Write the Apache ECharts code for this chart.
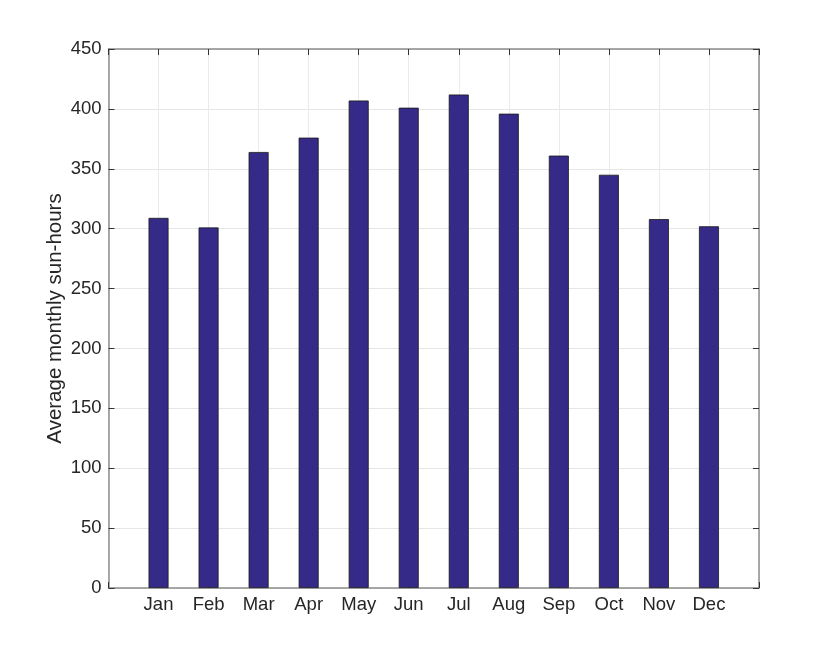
<!DOCTYPE html>
<html>
<head>
<meta charset="utf-8">
<script src="https://cdn.jsdelivr.net/npm/echarts@6/dist/echarts.min.js"></script>
<style>
  html, body { margin: 0; padding: 0; background: #fff; }
  #main { width: 839px; height: 661px; }
</style>
</head>
<body>
<div id="main"></div>
<script>
// 月份和日照时数
var months = ['Jan', 'Feb', 'Mar', 'Apr', 'May', 'Jun', 'Jul', 'Aug', 'Sep', 'Oct', 'Nov', 'Dec'];
var sunHours = [309, 301, 364, 376, 407, 401, 412, 396, 361, 345, 308, 302];
var yTicks = [0, 50, 100, 150, 200, 250, 300, 350, 400, 450];

var myChart = echarts.init(document.getElementById('main'));

// 柱子放在 1..12 的位置上，两边各留一格
var barData = sunHours.map(function (v, i) { return [i + 1, v]; });

var axisColor = '#8c8c8c';
var tickColor = '#333';
var textColor = '#262626';
var fontFamily = '"Liberation Sans", Arial, Helvetica, sans-serif';

var option = {
    animation: false,
    grid: { left: 108.5, right: 80, top: 49, bottom: 73 },
    xAxis: [{
        type: 'value',
        position: 'bottom',
        min: 0,
        max: months.length + 1,
        interval: 1,
        axisLine: { show: true, onZero: false, lineStyle: { color: axisColor, width: 1.5 } },
        axisTick: { show: true, inside: true, length: 6, lineStyle: { color: tickColor } },
        axisLabel: {
            margin: 7,
            color: textColor,
            fontSize: 18.5,
            fontFamily: fontFamily,
            formatter: function (v) { return months[v - 1] || ''; }
        },
        splitLine: { show: true, lineStyle: { color: '#ebebeb' } }
    }, {
        type: 'value',
        position: 'top',
        min: 0,
        max: months.length + 1,
        interval: 1,
        axisLine: { show: true, onZero: false, lineStyle: { color: axisColor, width: 1.5 } },
        axisTick: { show: true, inside: true, length: 6, lineStyle: { color: tickColor } },
        axisLabel: { show: false },
        splitLine: { show: false }
    }],
    yAxis: [{
        type: 'value',
        position: 'left',
        min: yTicks[0],
        max: yTicks[yTicks.length - 1],
        interval: 50,
        name: 'Average monthly sun-hours',
        nameLocation: 'middle',
        nameGap: 43,
        nameMoveOverlap: false,
        nameTextStyle: { color: textColor, fontSize: 20.5, fontFamily: fontFamily },
        axisLine: { show: true, onZero: false, lineStyle: { color: axisColor, width: 1.5 } },
        axisTick: { show: true, inside: true, length: 6, lineStyle: { color: tickColor } },
        axisLabel: { margin: 7, color: textColor, fontSize: 18.5, fontFamily: fontFamily },
        splitLine: { show: true, lineStyle: { color: '#e6e6e6' } }
    }, {
        type: 'value',
        position: 'right',
        min: yTicks[0],
        max: yTicks[yTicks.length - 1],
        interval: 50,
        axisLine: { show: true, onZero: false, lineStyle: { color: axisColor, width: 1.5 } },
        axisTick: { show: true, inside: true, length: 6, lineStyle: { color: tickColor } },
        axisLabel: { show: false },
        splitLine: { show: false }
    }],
    series: [{
        name: 'sun-hours',
        type: 'bar',
        xAxisIndex: 0,
        yAxisIndex: 0,
        barWidth: 20,
        data: barData,
        itemStyle: {
            color: '#352a87',
            borderColor: '#1a1a1a',
            borderWidth: 0.8
        }
    }]
};

myChart.setOption(option);
</script>
</body>
</html>
